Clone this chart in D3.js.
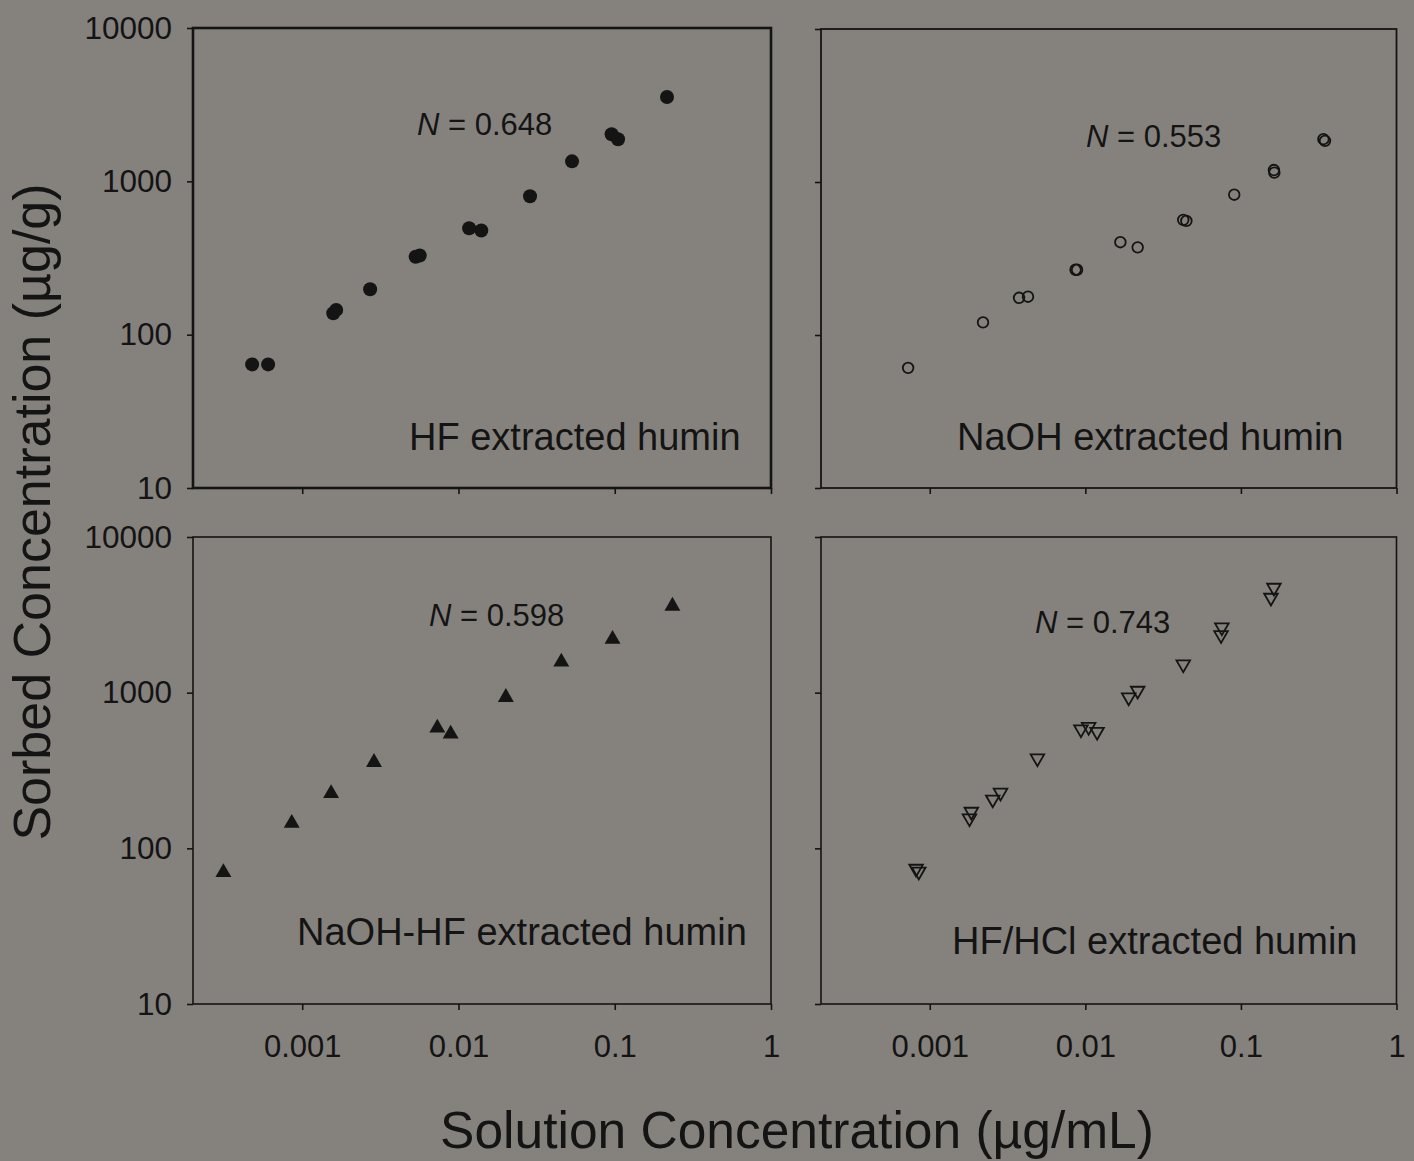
<!DOCTYPE html>
<html>
<head>
<meta charset="utf-8">
<script src="https://cdn.jsdelivr.net/npm/d3@7"></script>
<style>
  html, body { margin: 0; padding: 0; background: #85827e; }
  svg { display: block; }
  text { font-family: "Liberation Sans", Arial, Helvetica, sans-serif; fill: #141414; }
</style>
</head>
<body>
<svg id="chart" width="1414" height="1161"></svg>
<script>
// Axis ticks shared by all four panels
const xTicks = [0.001, 0.01, 0.1, 1];
const yTicks = [10, 100, 1000, 10000];
const xDomain = [0.0002, 1];
const yDomain = [10, 10000];

// HF extracted humin (filled circles)
const hfX = [0.000478, 0.000605, 0.00158, 0.00165, 0.00272, 0.00532, 0.00565, 0.0117, 0.0140, 0.0287, 0.0533, 0.0955, 0.105, 0.216];
const hfY = [64, 64, 138, 145, 198, 322, 328, 494, 478, 800, 1350, 2030, 1880, 3550];

// NaOH extracted humin (open circles)
const naohX = [0.000726, 0.00220, 0.00375, 0.00428, 0.00865, 0.00885, 0.0168, 0.0217, 0.0426, 0.0446, 0.0906, 0.163, 0.164, 0.339, 0.347];
const naohY = [61, 121, 175, 178, 267, 267, 404, 374, 565, 557, 826, 1197, 1151, 1906, 1858];

// NaOH-HF extracted humin (filled triangles)
const naohhfX = [0.000313, 0.000857, 0.00153, 0.00288, 0.00732, 0.00891, 0.0201, 0.0455, 0.0968, 0.234];
const naohhfY = [70, 145, 225, 357, 593, 543, 934, 1574, 2203, 3600];

// HF/HCl extracted humin (open down-triangles)
const hfhclX = [0.000817, 0.00085, 0.00185, 0.00180, 0.00254, 0.00285, 0.00492, 0.00937, 0.0105, 0.0119, 0.0190, 0.0217, 0.0426, 0.0745, 0.0754, 0.156, 0.163];
const hfhclY = [74, 71, 172, 156, 206, 228, 379, 582, 604, 561, 933, 1030, 1521, 2345, 2630, 4076, 4725];

const exponents = ["0.648", "0.553", "0.598", "0.743"];
const sampleNames = ["HF extracted humin", "NaOH extracted humin", "NaOH-HF extracted humin", "HF/HCl extracted humin"];

const svg = d3.select("#chart");
const ink = "#141414";

const panels = [
  { x0: 193, x1: 771, y0: 28, y1: 488, xs: hfX, ys: hfY, mark: "dot", frame: 2.6, yLab: true, xLab: false,
    nPos: [417, 135], namePos: [409, 450] },
  { x0: 821, x1: 1396.5, y0: 29, y1: 488, xs: naohX, ys: naohY, mark: "ring", frame: 1.8, yLab: false, xLab: false,
    nPos: [1086, 147], namePos: [957, 450] },
  { x0: 193, x1: 771, y0: 537, y1: 1004, xs: naohhfX, ys: naohhfY, mark: "tri", frame: 1.6, yLab: true, xLab: true,
    nPos: [429, 626], namePos: [297, 945] },
  { x0: 821, x1: 1396.5, y0: 537, y1: 1004, xs: hfhclX, ys: hfhclY, mark: "dtri", frame: 1.6, yLab: false, xLab: true,
    nPos: [1035, 633], namePos: [952, 954] }
];

panels.forEach((p, i) => {
  const x = d3.scaleLog().domain(xDomain).range([p.x0, p.x1]);
  const y = d3.scaleLog().domain(yDomain).range([p.y1, p.y0]);
  const g = svg.append("g");

  // y axis ticks (outward), labels only on left column
  const ya = d3.axisLeft(y).tickValues(yTicks).tickSize(6).tickPadding(15)
    .tickFormat(p.yLab ? (d => String(d)) : () => "");
  const yg = g.append("g").attr("transform", `translate(${p.x0},0)`).call(ya);
  yg.select(".domain").remove();
  yg.selectAll("line").attr("stroke", ink).attr("stroke-width", 1.6);
  yg.selectAll("text").attr("font-size", 31.5).attr("font-family", null).style("fill", ink);

  // x axis ticks (outward), labels only on bottom row
  const xa = d3.axisBottom(x).tickValues(xTicks).tickSize(6).tickPadding(25)
    .tickFormat(p.xLab ? (d => String(d)) : () => "");
  const xg = g.append("g").attr("transform", `translate(0,${p.y1})`).call(xa);
  xg.select(".domain").remove();
  xg.selectAll("line").attr("stroke", ink).attr("stroke-width", 1.6);
  xg.selectAll("text").attr("font-size", 31).attr("font-family", null).style("fill", ink);

  // panel frame
  g.append("rect")
    .attr("x", p.x0).attr("y", p.y0)
    .attr("width", p.x1 - p.x0).attr("height", p.y1 - p.y0)
    .attr("fill", "none").attr("stroke", ink).attr("stroke-width", p.frame);

  // data markers
  const pts = p.xs.map((v, k) => [x(v), y(p.ys[k])]);
  const mg = g.append("g");
  if (p.mark === "dot") {
    mg.selectAll("circle").data(pts).join("circle")
      .attr("cx", d => d[0]).attr("cy", d => d[1]).attr("r", 7).attr("fill", ink);
  } else if (p.mark === "ring") {
    mg.selectAll("circle").data(pts).join("circle")
      .attr("cx", d => d[0]).attr("cy", d => d[1]).attr("r", 5.3)
      .attr("fill", "none").attr("stroke", ink).attr("stroke-width", 1.8);
  } else if (p.mark === "tri") {
    const tri = d3.symbol().type(d3.symbolTriangle).size(110);
    mg.selectAll("path").data(pts).join("path")
      .attr("transform", d => `translate(${d[0]},${d[1]})`)
      .attr("d", tri()).attr("fill", ink);
  } else {
    const tri = d3.symbol().type(d3.symbolTriangle).size(80);
    mg.selectAll("path").data(pts).join("path")
      .attr("transform", d => `translate(${d[0]},${d[1]}) rotate(180)`)
      .attr("d", tri()).attr("fill", "none").attr("stroke", ink).attr("stroke-width", 1.8);
  }

  // Freundlich exponent annotation
  const nt = g.append("text").attr("x", p.nPos[0]).attr("y", p.nPos[1]).attr("font-size", 31);
  nt.append("tspan").attr("font-style", "italic").text("N");
  nt.append("tspan").text(" = " + exponents[i]);

  // sample name
  g.append("text").attr("x", p.namePos[0]).attr("y", p.namePos[1])
    .attr("font-size", 38).text(sampleNames[i]);
});

// axis titles
svg.append("text")
  .attr("transform", "translate(50,512) rotate(-90)")
  .attr("text-anchor", "middle").attr("font-size", 52)
  .text("Sorbed Concentration (\u00b5g/g)");

svg.append("text")
  .attr("x", 797).attr("y", 1148)
  .attr("text-anchor", "middle").attr("font-size", 51.5)
  .text("Solution Concentration (\u00b5g/mL)");
</script>
</body>
</html>
